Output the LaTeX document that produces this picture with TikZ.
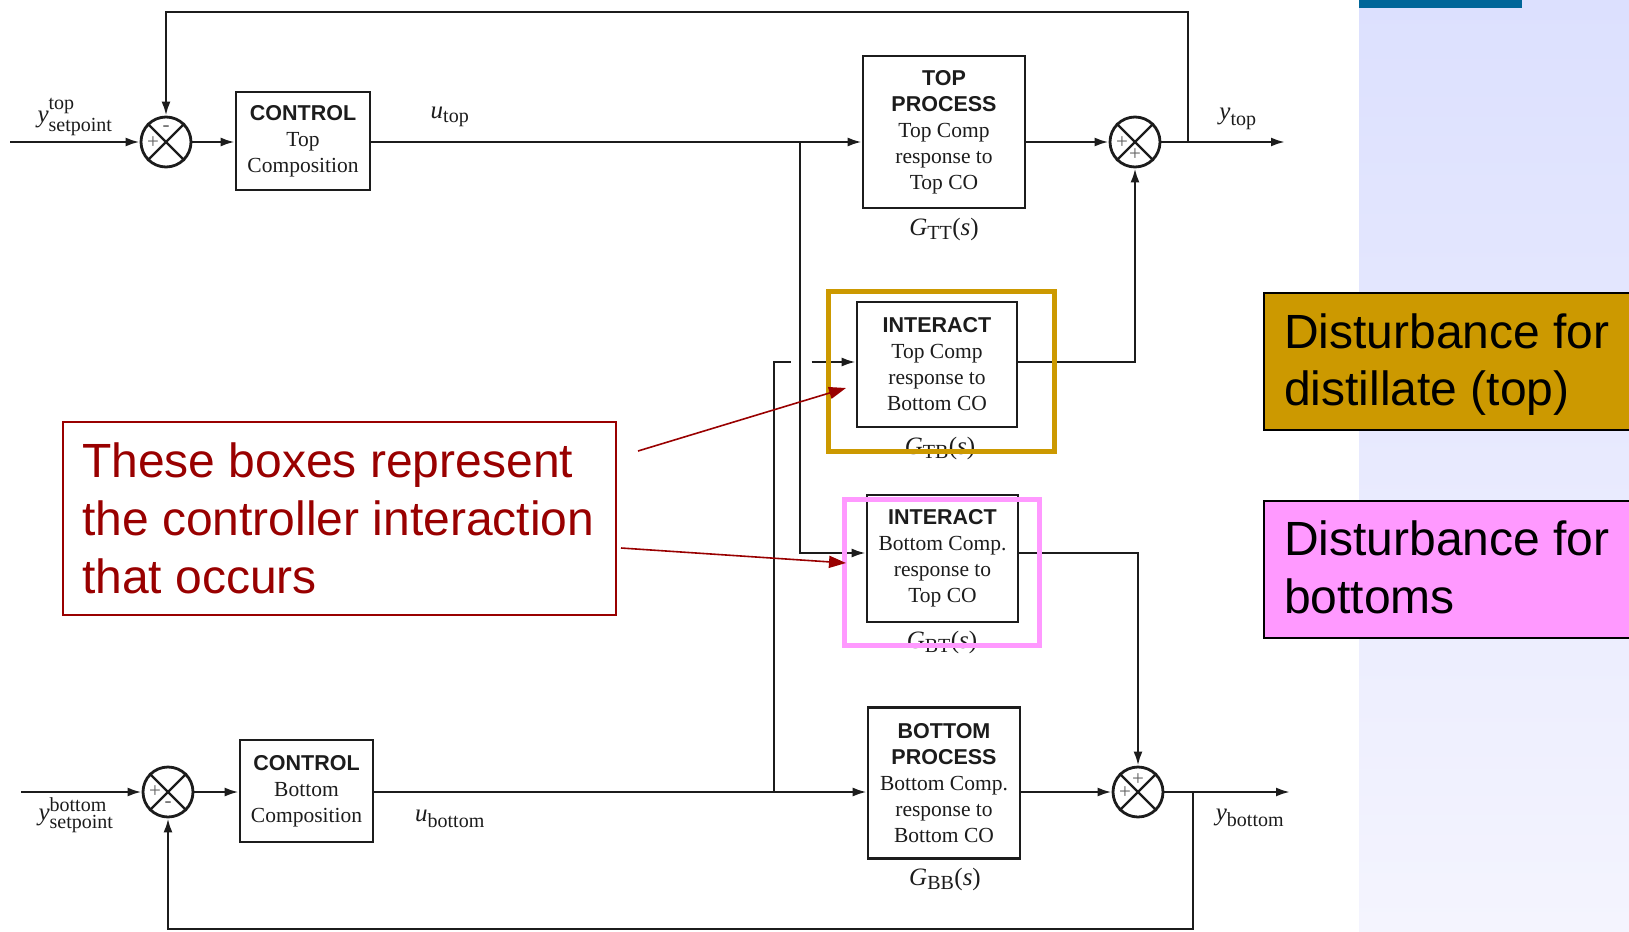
\documentclass[tikz,border=0pt]{standalone}
\usepackage{fontspec}
\usepackage{amsmath}
\setmainfont{Liberation Serif}
\setsansfont{Liberation Sans}
\usetikzlibrary{arrows.meta,calc}
\definecolor{gold}{HTML}{CC9900}
\definecolor{pinkc}{HTML}{FF99FF}
\definecolor{dred}{HTML}{990000}
\definecolor{barblue}{HTML}{006699}
\definecolor{ink}{HTML}{1C1C1C}
\definecolor{lavtop}{HTML}{DCE0FE}
\definecolor{lavbot}{HTML}{F4F4FE}
\newcommand{\ssz}[1]{\text{\fontsize{20}{20}\selectfont #1}}
\tikzset{
 blk/.style={draw=ink, line width=2.6pt, align=center, inner sep=0pt, font=\fontsize{21.5}{26}\selectfont, text=ink},
 sumj/.style={circle, draw=ink, line width=2.8pt, minimum size=50pt, inner sep=0pt},
 conn/.style={draw=ink, line width=2.4pt, -{Latex[length=14pt,width=9pt]}},
 wire/.style={draw=ink, line width=2.4pt},
 lbl/.style={inner sep=0pt, text=ink, font=\fontsize{25}{30}\selectfont},
 sgn/.style={inner sep=0pt, text=ink!70, font=\fontsize{21}{21}\selectfont},
 callarr/.style={draw=dred, line width=1.6pt, -{Triangle[length=17pt,width=12pt]}},
 calltxt/.style={anchor=base west, inner sep=0pt, text=dred, font=\fontsize{48}{58}\selectfont\sffamily},
 disttxt/.style={anchor=base west, inner sep=0pt, text=black, font=\fontsize{48}{58}\selectfont\sffamily},
}
\begin{document}
\begin{tikzpicture}[x=1pt,y=-1pt]
\useasboundingbox (0,0) rectangle (1629,931);
\fill[white] (0,0) rectangle (1629,931);
\shade[top color=lavtop,bottom color=lavbot] (1359,0) rectangle (1629,931);
\fill[barblue] (1359,0) rectangle (1522,8);

% blocks
\node[blk, minimum width=134pt, minimum height=98pt] (ctrlT) at (303,141)
  {\textsf{\textbf{CONTROL}}\\Top\\Composition};
\node[blk, minimum width=162pt, minimum height=152pt] (procT) at (944,132)
  {\textsf{\textbf{TOP}}\\\textsf{\textbf{PROCESS}}\\Top Comp\\response to\\Top CO};
\node[blk, minimum width=160pt, minimum height=125pt] (intT) at (937,364.5)
  {\textsf{\textbf{INTERACT}}\\Top Comp\\response to\\Bottom CO};
\node[blk, minimum width=151pt, minimum height=127pt] (intB) at (942.5,558.5)
  {\textsf{\textbf{INTERACT}}\\Bottom Comp.\\response to\\Top CO};
\node[blk, minimum width=133pt, minimum height=102pt] (ctrlB) at (306.5,791)
  {\textsf{\textbf{CONTROL}}\\Bottom\\Composition};
\node[blk, minimum width=152pt, minimum height=151pt] (procB) at (944,783)
  {\textsf{\textbf{BOTTOM}}\\\textsf{\textbf{PROCESS}}\\Bottom Comp.\\response to\\Bottom CO};

% summing junctions
\node[sumj] (sumT) at (166,142) {};
\node[sumj] (sumT2) at (1135,142) {};
\node[sumj] (sumB) at (168,792) {};
\node[sumj] (sumB2) at (1138,792) {};
\foreach \s in {sumT,sumT2,sumB,sumB2}
  \draw[line width=2.4pt, ink] (\s.45) -- (\s.225) (\s.135) -- (\s.315);
\node[sgn] (sTa) at ($(sumT)+(-13,1)$) {+};
\node[sgn] (sTb) at ($(sumT)+(0,-13)$) {-};
\node[sgn] (sT2a) at ($(sumT2)+(-13,1)$) {+};
\node[sgn] (sT2b) at ($(sumT2)+(0,13)$) {+};
\node[sgn] (sBa) at ($(sumB)+(-13,0)$) {+};
\node[sgn] (sBb) at ($(sumB)+(0,13)$) {-};
\node[sgn] (sB2a) at ($(sumB2)+(-13,1)$) {+};
\node[sgn] (sB2b) at ($(sumB2)+(0,-12)$) {+};

% coordinates
\coordinate (inT) at (10,142);
\coordinate (outT) at (1285,142);
\coordinate (fbT) at (1188,142);
\coordinate (fbTc) at (1188,12);
\coordinate (brT) at (800,142);
\coordinate (inB) at (21,792);
\coordinate (outB) at (1290,792);
\coordinate (fbB) at (1193,792);
\coordinate (fbBc) at (1193,929);
\coordinate (brB) at (774,792);
\coordinate (intTin) at ([yshift=2.5pt]intT.west);
\coordinate (intTout) at ([yshift=2.5pt]intT.east);
\coordinate (intBin) at ([yshift=5.5pt]intB.west);
\coordinate (intBout) at ([yshift=5.5pt]intB.east);
\coordinate (hopL) at ($(intTin)+(-65,0)$);
\coordinate (hopR) at ($(intTin)+(-44,0)$);

% top loop
\draw[conn] (inT) -- (sumT);
\draw[conn] (sumT) -- (sumT -| ctrlT.west);
\draw[conn] (ctrlT.east |- sumT) -- (procT.west |- sumT);
\draw[conn] (procT.east |- sumT2) -- (sumT2);
\draw[conn] (sumT2) -- (outT);
\draw[conn] (fbT) -- (fbTc) -| (sumT);
\draw[conn] (brT) |- (intBin);
\draw[conn] (intTout) -| (sumT2);

% bottom loop
\draw[conn] (inB) -- (sumB);
\draw[conn] (sumB) -- (sumB -| ctrlB.west);
\draw[conn] (ctrlB.east |- sumB) -- (procB.west |- sumB);
\draw[conn] (procB.east |- sumB2) -- (sumB2);
\draw[conn] (sumB2) -- (outB);
\draw[conn] (fbB) -- (fbBc) -| (sumB);
\draw[wire] (brB) |- (hopL);
\draw[conn] (hopR) -- (intTin);
\draw[conn] (intBout) -| (sumB2);

% signal labels
\node[lbl] (lyspT) at (75,117) {$\textit{y}^{\ssz{top}}_{\ssz{setpoint}}$};
\node[lbl] (luT) at (450,117) {$\textit{u}_{\ssz{top}}$};
\node[lbl] (lyT) at (1238,119) {$\textit{y}_{\ssz{top}}$};
\node[lbl] (lGTT) at (944,229) {$\textit{G}_{\ssz{TT}}$(\textit{s})};
\node[lbl] (lGTB) at (940,448) {$\textit{G}_{\ssz{TB}}$(\textit{s})};
\node[lbl] (lGBT) at (942,642) {$\textit{G}_{\ssz{BT}}$(\textit{s})};
\node[lbl] (lyspB) at (76,815) {$\textit{y}^{\ssz{bottom}}_{\ssz{setpoint}}$};
\node[lbl] (luB) at (450,819) {$\textit{u}_{\ssz{bottom}}$};
\node[lbl] (lyB) at (1250,818) {$\textit{y}_{\ssz{bottom}}$};
\node[lbl] (lGBB) at (945,879) {$\textit{G}_{\ssz{BB}}$(\textit{s})};

% highlight frames
\node[draw=gold, line width=5pt, minimum width=226pt, minimum height=160pt, inner sep=0pt] (hlT) at (941.5,371.5) {};
\node[draw=pinkc, line width=5pt, minimum width=195pt, minimum height=146pt, inner sep=0pt] (hlB) at (942,572) {};

% callout
\node[draw=dred, line width=1.6pt, minimum width=553pt, minimum height=193pt, anchor=north west, inner sep=0pt] (callbox) at (62,421) {};
\node[calltxt] (cl1) at (82,477) {These boxes represent};
\node[calltxt] (cl2) at (82,535) {the controller interaction};
\node[calltxt] (cl3) at (82,593) {that occurs};
\coordinate (ca1s) at (638,451);
\coordinate (ca1e) at (846,388);
\coordinate (ca2s) at (621,548);
\coordinate (ca2e) at (846,563);
\draw[callarr] (ca1s) -- (ca1e);
\draw[callarr] (ca2s) -- (ca2e);

% disturbance boxes
\node[draw=black, line width=1.6pt, fill=gold, minimum width=400pt, minimum height=137pt, anchor=north west, inner sep=0pt] (distT) at (1263,292) {};
\node[disttxt] (dt1) at (1284,348) {Disturbance for};
\node[disttxt] (dt2) at (1284,405) {distillate (top)};
\node[draw=black, line width=1.6pt, fill=pinkc, minimum width=400pt, minimum height=137pt, anchor=north west, inner sep=0pt] (distB) at (1263,500) {};
\node[disttxt] (db1) at (1284,555) {Disturbance for};
\node[disttxt] (db2) at (1284,613) {bottoms};
\end{tikzpicture}
\end{document}
